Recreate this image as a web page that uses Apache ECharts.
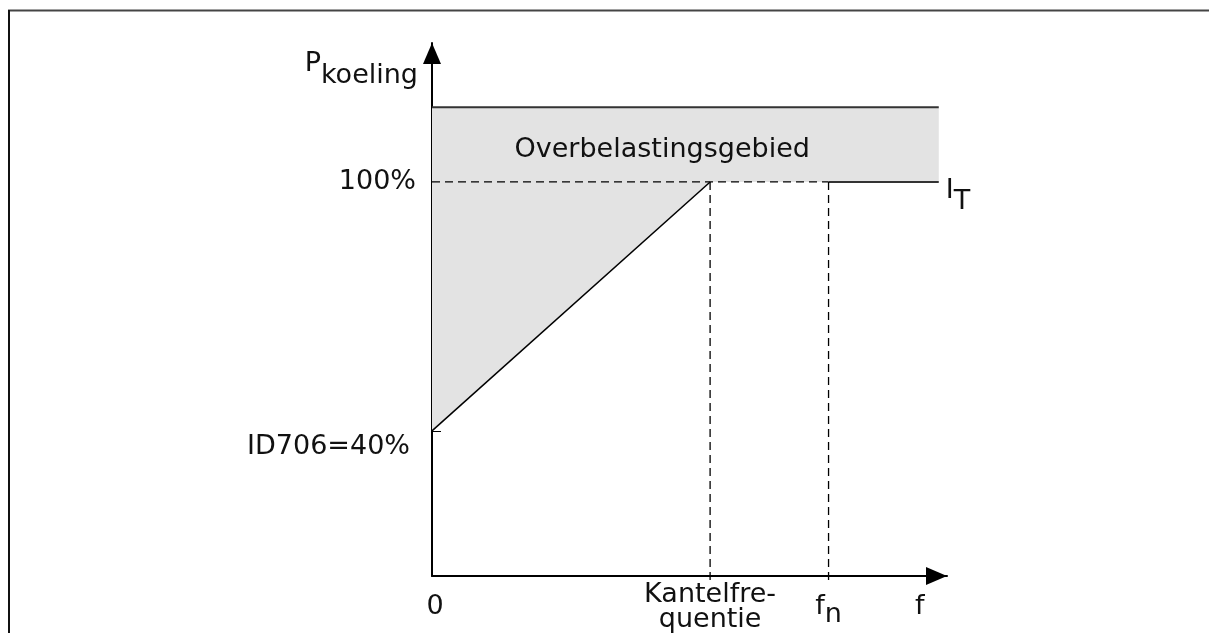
<!DOCTYPE html>
<html><head><meta charset="utf-8">
<script src="https://cdn.jsdelivr.net/npm/echarts@6/dist/echarts.min.js"></script>
<style>html,body{margin:0;padding:0;background:#fff}#c{width:1209px;height:633px}</style>
</head><body><div id="c"></div>
<script>
// ---- data (schematic values) ----
const xTickValues = [0, 54, 77, 94.7];
const xTickLabels = ['0', 'Kantelfre-\nquentie', 'f_n', 'f'];
const yTickValues = [40, 100];
const yTickLabels = ['ID706=40%', '100%'];
const coolingX = [0, 54, 98.4];          // 0, kantelfrequentie, end of region
const coolingY = [40, 100, 100];          // P_koeling: 40% at 0 Hz, 100% from kantelfrequentie
const kantelFreq = 54;
const nominalFreq = 77;
const overloadTop = 118;
const axisRange = { xMin: 0, xMax: 100, yMin: 5, yMax: 133.5 };
const overloadText = 'Overbelastingsgebied';
const overloadTextAt = [44.7, 107.7];

// ---- chart ----
const FONT = 'DejaVu Sans';
const FS = 27;
const TXT = '#111';
const chart = echarts.init(document.getElementById('c'), null, { renderer: 'canvas' });

const curve = coolingX.map((x, i) => [x, coolingY[i]]);
const end = coolingX[coolingX.length - 1];

function lineSeries(data, style, extra) {
  return Object.assign({
    type: 'line', data, symbol: 'none', silent: true, clip: false, animation: false,
    lineStyle: style, z: 3
  }, extra || {});
}
function tok(extra) {
  return Object.assign({ fontFamily: FONT, fontSize: FS, lineHeight: FS, color: TXT }, extra || {});
}

const option = {
  animation: false,
  grid: { left: 432, right: 262, top: 43, bottom: 57, containLabel: false },
  xAxis: {
    type: 'value', min: axisRange.xMin, max: axisRange.xMax,
    splitLine: { show: false },
    axisLine: { show: true, lineStyle: { color: '#000', width: 2 }, symbol: ['none', 'triangle'], symbolSize: [18, 21], symbolOffset: [0, -10.5] },
    axisTick: { show: false },
    axisLabel: {
      customValues: xTickValues, margin: 31, verticalAlign: 'middle',
      fontFamily: FONT, fontSize: FS, lineHeight: 25, color: TXT,
      formatter: v => {
        const i = xTickValues.indexOf(v);
        const t = xTickLabels[i] || '';
        if (t.indexOf('_') > 0) { const p = t.split('_'); return '{m|' + p[0] + '}{s|' + p[1] + '}'; }
        if (v === 0) return '{z|' + t + '}';
        return t;
      },
      rich: {
        z: tok({ padding: [0, 0, 0, 6] }),
        m: tok({ verticalAlign: 'middle' }),
        s: tok({ verticalAlign: 'middle', padding: [16, 0, 0, 0] })
      }
    }
  },
  yAxis: {
    type: 'value', min: axisRange.yMin, max: axisRange.yMax,
    splitLine: { show: false },
    axisLine: { show: true, lineStyle: { color: '#000', width: 2 }, symbol: ['none', 'triangle'], symbolSize: [18, 21], symbolOffset: [0, -10.5] },
    axisTick: { show: true, customValues: [yTickValues[0]], inside: true, length: 9, lineStyle: { color: '#000', width: 1 } },
    axisLabel: {
      customValues: yTickValues, margin: 16,
      fontFamily: FONT, fontSize: FS, color: TXT,
      formatter: v => {
        const t = yTickLabels[yTickValues.indexOf(v)];
        return v === yTickValues[0] ? '{low|' + t + '}' : '{n|' + t + '}';
      },
      rich: {
        n: tok(),
        low: tok({ padding: [32, 6, 0, 0] })
      }
    },
    name: '{p|P}{s|koeling}', nameLocation: 'end', nameGap: -21,
    nameTextStyle: {
      align: 'right', verticalAlign: 'middle', padding: [0, 14, 0, 0],
      rich: {
        p: tok({ verticalAlign: 'middle' }),
        s: tok({ verticalAlign: 'middle', padding: [24, 0, 0, 0] })
      }
    }
  },
  series: [
    {
      type: 'custom', silent: true, clip: false, z: 1,
      data: [[0, overloadTop]],
      renderItem: (params, api) => {
        const pts = curve.map(p => api.coord(p));
        pts.push(api.coord([end, overloadTop]));
        pts.push(api.coord([0, overloadTop]));
        const tp = api.coord(overloadTextAt);
        return {
          type: 'group', children: [
            { type: 'polygon', shape: { points: pts }, style: { fill: '#e3e3e3' } },
            { type: 'text', x: tp[0], y: tp[1], style: { text: overloadText, fontFamily: FONT, fontSize: FS, fill: TXT, align: 'center', verticalAlign: 'middle' } }
          ]
        };
      }
    },
    lineSeries([[0, overloadTop], [end, overloadTop]], { color: '#333', width: 2 }),
    lineSeries([curve[0], curve[1]], { color: '#000', width: 1.5 }),
    lineSeries([[0, 100], [nominalFreq, 100]], { color: '#000', width: 1.3, type: [8, 5] }),
    lineSeries([[nominalFreq, 100], [end, 100]], { color: '#333', width: 2 }, {
      endLabel: {
        show: true, distance: 7, offset: [0, 9], formatter: '{i|I}{t|T}',
        rich: {
          i: tok({ verticalAlign: 'middle' }),
          t: tok({ verticalAlign: 'middle', padding: [22, 0, 0, 0] })
        }
      }
    }),
    lineSeries([[kantelFreq, 100], [kantelFreq, 3.3]], { color: '#000', width: 1.3, type: [8, 5] }),
    lineSeries([[nominalFreq, 100], [nominalFreq, 3.3]], { color: '#000', width: 1.3, type: [8, 5] })
  ],
  graphic: [
    { type: 'line', shape: { x1: 8, y1: 10.5, x2: 1209, y2: 10.5 }, style: { stroke: '#444', lineWidth: 2 }, silent: true },
    { type: 'line', shape: { x1: 9, y1: 10, x2: 9, y2: 633 }, style: { stroke: '#111', lineWidth: 2 }, silent: true }
  ]
};
chart.setOption(option);
</script>
</body></html>
